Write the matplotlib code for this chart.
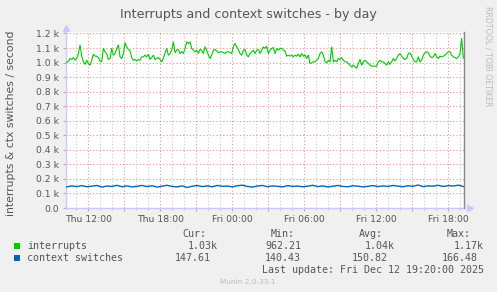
import numpy as np
import matplotlib
matplotlib.use("Agg")
import matplotlib.pyplot as plt
from matplotlib.ticker import MultipleLocator, FuncFormatter

# ---------------- data (hours since Thu 00:00) ----------------
t_first, t_last = 10.20, 43.25          # first / last sample
x_min, x_max = 10.14, 43.33             # visible time window (Thu ~10:08 .. Fri 19:20)

interrupts = [
    1000, 1009, 1028, 1021, 1034, 1016, 1028, 1062, 1120, 1044, 1005, 988, 1016, 993, 982, 1016,
    1057, 1044, 1044, 1034, 1011, 1005, 1097, 1074, 1062, 1021, 1028, 1097, 1051, 1062, 1097, 1120,
    1039, 1028, 1062, 1136, 1108, 1090, 1080, 1034, 1016, 1021, 1011, 1021, 1016, 1039, 1039, 1051,
    1039, 1057, 1021, 1034, 1051, 1021, 1028, 1034, 1021, 1005, 1028, 1067, 1097, 1051, 1062, 1085,
    1142, 1067, 1085, 1090, 1062, 1074, 1062, 1097, 1142, 1131, 1142, 1097, 1085, 1074, 1085, 1062,
    1090, 1085, 1062, 1108, 1085, 1051, 1028, 1051, 1085, 1090, 1080, 1067, 1074, 1074, 1069, 1062,
    1074, 1074, 1069, 1062, 1108, 1131, 1108, 1090, 1062, 1051, 1085, 1090, 1051, 1039,
    1062, 1074, 1085, 1062, 1085, 1090, 1062, 1085, 1108, 1097, 1113, 1062, 1085, 1097, 1103, 1062,
    1097, 1085, 1097, 1097, 1085, 1080, 1044, 1051, 1044, 1051, 1039, 1051, 1044, 1057, 1039, 1062,
    1044, 1051, 1028, 1051, 993, 998, 1005, 1005, 1016, 1028, 1062, 1074, 1051, 1005, 998, 1016,
    1005, 1108, 1005, 1016, 1005, 1028, 1021, 1034, 1016, 1005, 1005, 993, 982, 970, 982, 970,
    962, 993, 1021, 982, 1005, 1016, 1005, 993, 982, 975, 975, 975, 975, 1005, 1016, 1005,
    1005, 993, 982, 1005, 988, 1005, 1028, 1011, 1028, 1051, 1062, 1044, 1028, 1021, 1028, 1062,
    1067, 1044, 1021, 1005, 1005, 1039, 1005, 1016, 1051, 1067, 1074, 1067, 1044, 1034, 1039, 1062,
    1039, 1028, 1044, 1039, 1044, 1051, 1062, 1074, 1074, 1051, 1039, 1034, 1028, 1039, 1062, 1165,
    1030,
]
context_switches = [
    145, 152, 147, 154, 146, 150, 155, 144, 151, 148, 156, 146, 152, 145, 149, 155,
    147, 153, 144, 150, 156, 148, 145, 152, 141, 150, 154, 147, 152, 146, 155, 149,
    151, 145, 153, 157, 148, 144, 151, 155, 146, 152, 149, 145, 154, 148, 151, 146,
    150, 156, 147, 152, 145, 150, 155, 148, 146, 153, 150, 145, 149, 154, 147, 152,
    148, 155, 150, 146, 153, 149, 158, 147, 152, 150, 156, 148, 154, 151, 157, 148,
]

series_names = ["interrupts", "context switches"]
series_colors = ["#00CC00", "#0066B3"]
stat_headers = ["Cur:", "Min:", "Avg:", "Max:"]
stats_interrupts = ["1.03k", "962.21", "1.04k", "1.17k"]
stats_ctx = ["147.61", "140.43", "150.82", "166.48"]

title = "Interrupts and context switches - by day"
ylabel = "interrupts & ctx switches / second"
last_update = "Last update: Fri Dec 12 19:20:00 2025"
munin_version = "Munin 2.0.33-1"
watermark = "RRDTOOL / TOBI OETIKER"
tick_names = {12: "Thu 12:00", 18: "Thu 18:00", 24: "Fri 00:00",
              30: "Fri 06:00", 36: "Fri 12:00", 42: "Fri 18:00"}

# ---------------- figure ----------------
W, H = 497, 292
fig = plt.figure(figsize=(W / 100, H / 100), dpi=100, facecolor="#F0F0F0")

def fx(x):
    return x / W

def fy(y):
    return 1 - y / H

ax_l, ax_r, ax_t, ax_b = 66, 464.3, 32, 208
ax = fig.add_axes([fx(ax_l), fy(ax_b), (ax_r - ax_l) / W, (ax_b - ax_t) / H])
ax.set_facecolor("white")

t_int = np.linspace(t_first, t_last, len(interrupts))
t_ctx = np.linspace(t_first, t_last, len(context_switches))

ax.set_xlim(x_min, x_max)
ax.set_ylim(0, 1210)

# grid
ax.xaxis.set_major_locator(MultipleLocator(3))
ax.xaxis.set_minor_locator(MultipleLocator(1))
ax.yaxis.set_major_locator(MultipleLocator(100))
ax.xaxis.set_major_formatter(FuncFormatter(lambda v, p: tick_names.get(int(round(v)), "")))
ax.yaxis.set_major_formatter(FuncFormatter(lambda v, p: "%.1f k" % (v / 1000) if v > 0 else "0.0"))
ax.grid(which="minor", axis="x", color="#C8C8C8", linestyle=(0, (1, 2)), linewidth=0.8)
ax.grid(which="major", axis="both", color="#F09090", linestyle=(0, (1, 2)), linewidth=0.8)
ax.set_axisbelow(True)

ax.tick_params(which="major", axis="both", length=2, width=0.8, color="#F09090",
               labelsize=6.7, labelcolor="#555555", pad=2)
ax.tick_params(which="minor", axis="x", length=1.5, width=0.8, color="#C8C8C8")
ax.tick_params(axis="x", pad=3)
ax.tick_params(axis="y", pad=3)

for s in ["top", "right"]:
    ax.spines[s].set_visible(False)
for s in ["left", "bottom"]:
    ax.spines[s].set_color("#C8C8FF")
    ax.spines[s].set_linewidth(1.0)

# arrows on axes
ax.plot([0], [1.025], marker="^", color="#C8C8FF", markersize=4, transform=ax.transAxes, clip_on=False)
ax.plot([1.015], [0], marker=">", color="#C8C8FF", markersize=4, transform=ax.transAxes, clip_on=False)

# data
ax.plot(t_int, interrupts, color=series_colors[0], linewidth=0.8, zorder=3)
ax.plot(t_ctx, context_switches, color=series_colors[1], linewidth=1.0, zorder=3)
ax.axvline(x_max, color="#888888", linewidth=1.0, zorder=4, clip_on=False)

# texts
fig.text(fx(248.5), fy(18.3), title, ha="center", va="baseline", fontsize=9.1, color="#555555")
fig.text(fx(11), fy(123), ylabel, ha="center", va="center", rotation=90, fontsize=7.8, color="#555555")
fig.text(fx(488), fy(56.5), watermark, ha="center", va="center", rotation=270, fontsize=5.7, color="#BBBBBB")

mono = "DejaVu Sans Mono"
lfs = 7.2
header_x = [182, 271, 359, 447]
int_x = [187.3, 265, 364.3, 454]
ctx_x = [175, 265, 351.7, 441.7]
for x, s in zip(header_x, stat_headers):
    fig.text(fx(x), fy(236.7), s, family=mono, fontsize=lfs, color="#555555", va="baseline")

rows = [(249, series_names[0], series_colors[0], stats_interrupts, int_x),
        (261, series_names[1], series_colors[1], stats_ctx, ctx_x)]
for base, name, col, vals, xs in rows:
    fig.patches.append(plt.Rectangle((fx(13.5), fy(base - 0.5)), 6 / W, 6 / H,
                                     transform=fig.transFigure, facecolor=col, edgecolor="none"))
    fig.text(fx(26.7), fy(base), name, family=mono, fontsize=lfs, color="#555555", va="baseline")
    for x, v in zip(xs, vals):
        fig.text(fx(x), fy(base), v, family=mono, fontsize=lfs, color="#555555", va="baseline")

fig.text(fx(261.7), fy(272.7), last_update, family=mono, fontsize=lfs, color="#555555", va="baseline")
fig.text(fx(248), fy(283.7), munin_version, ha="center", va="baseline", fontsize=5.3, color="#BBBBBB")

fig.savefig("out.png", dpi=100, facecolor=fig.get_facecolor())
